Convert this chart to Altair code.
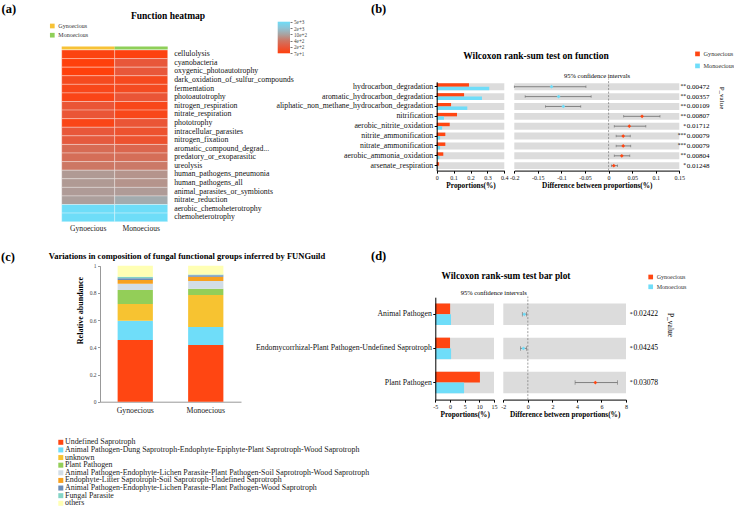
import altair as alt
import pandas as pd

W, H = 734, 507
FONT = "Liberation Serif"
RED = "#FF4612"
CYAN = "#6FDDF9"
GOLD = "#F7C236"
GREEN = "#8ECF58"
BAND = "#DCDCDC"
ERR = "#6A6A6A"
GROUPS = ["Gynoecious", "Monoecious"]

# ---------------- (a) FAPROTAX function heatmap ----------------
HEAT_FUNCS = [
    "cellulolysis", "cyanobacteria", "oxygenic_photoautotrophy",
    "dark_oxidation_of_sulfur_compounds", "fermentation", "photoautotrophy",
    "nitrogen_respiration", "nitrate_respiration", "phototrophy",
    "intracellular_parasites", "nitrogen_fixation", "aromatic_compound_degrad...",
    "predatory_or_exoparasitic", "ureolysis", "human_pathogens_pneumonia",
    "human_pathogens_all", "animal_parasites_or_symbionts", "nitrate_reduction",
    "aerobic_chemoheterotrophy", "chemoheterotrophy",
]
HEAT_GYN = [85, 65, 65, 125, 110, 100, 190, 190, 100, 200, 220, 330, 350, 420, 880, 880, 900, 950, 5000, 5000]
HEAT_MON = [80, 200, 200, 120, 130, 190, 110, 110, 190, 170, 170, 300, 350, 450, 800, 800, 900, 1250, 5000, 5000]
HEAT_TICKS = [70, 200, 400, 1000, 2000, 5000]
HEAT_TICK_TEXT = ["7e+1", "2e+2", "4e+2", "10e+2", "2e+3", "5e+3"]
HEAT_COLORS = ["#FF400C", "#E8573A", "#CE7562", "#A9A3A1", "#8EC4D6", "#6EDDF8"]

# ---------------- (b) Wilcoxon test on functions ----------------
B_FUNCS = [
    "hydrocarbon_degradation", "aromatic_hydrocarbon_degradation",
    "aliphatic_non_methane_hydrocarbon_degradation", "nitrification",
    "aerobic_nitrite_oxidation", "nitrite_ammonification", "nitrate_ammonification",
    "aerobic_ammonia_oxidation", "arsenate_respiration",
]
B_GYN = [0.191, 0.162, 0.085, 0.120, 0.077, 0.051, 0.051, 0.039, 0.014]
B_MON = [0.311, 0.268, 0.181, 0.043, 0.032, 0.020, 0.020, 0.016, 0.003]
B_DIFF = [-0.121, -0.106, -0.096, 0.071, 0.044, 0.031, 0.031, 0.028, 0.011]
B_LOW = [-0.200, -0.177, -0.134, 0.032, 0.012, 0.016, 0.016, 0.012, 0.006]
B_HIGH = [-0.048, -0.037, -0.059, 0.109, 0.079, 0.046, 0.047, 0.045, 0.019]
B_STARS = ["**", "**", "**", "**", "*", "***", "***", "**", "*"]
B_P = ["0.00472", "0.00357", "0.00109", "0.00807", "0.01712", "0.00079", "0.00079", "0.00804", "0.01248"]

# ---------------- (c) FUNGuild composition ----------------
C_GUILDS = [
    "Undefined Saprotroph",
    "Animal Pathogen-Dung Saprotroph-Endophyte-Epiphyte-Plant Saprotroph-Wood Saprotroph",
    "unknown",
    "Plant Pathogen",
    "Animal Pathogen-Endophyte-Lichen Parasite-Plant Pathogen-Soil Saprotroph-Wood Saprotroph",
    "Endophyte-Litter Saprotroph-Soil Saprotroph-Undefined Saprotroph",
    "Animal Pathogen-Endophyte-Lichen Parasite-Plant Pathogen-Wood Saprotroph",
    "Fungal Parasite",
    "others",
]
C_GYN = [0.453, 0.143, 0.122, 0.103, 0.047, 0.027, 0.012, 0.012, 0.081]
C_MON = [0.417, 0.132, 0.235, 0.047, 0.056, 0.032, 0.010, 0.007, 0.064]
C_COLORS = ["#FF4612", "#6FDDF9", "#F7C331", "#93CE58", "#D2DDE6", "#F7A11F", "#6C8DB8", "#83D4C6", "#FFFFB4"]

# ---------------- (d) Wilcoxon test on guilds ----------------
D_NAMES = ["Animal Pathogen", "Endomycorrhizal-Plant Pathogen-Undefined Saprotroph", "Plant Pathogen"]
D_GYN = [0.05, 0.02, 10.2]
D_MON = [0.35, 0.38, 4.8]
D_DIFF = [-0.29, -0.36, 5.5]
D_LOW = [-0.45, -0.60, 3.85]
D_HIGH = [-0.10, -0.10, 7.3]
D_STARS = ["*", "*", "*"]
D_P = ["0.02422", "0.04245", "0.03078"]

NUM_LABEL = "'' + datum.value"


def note(text, x, y, size, bold=False, angle=0, align="center"):
    return alt.Chart(alt.Data(values=[{}])).mark_text(
        text=text, font=FONT, fontSize=size, fontWeight="bold" if bold else "normal",
        angle=angle, align=align, baseline="middle", color="#000",
    ).encode(x=alt.value(x), y=alt.value(y))


def group_legend(x, y, gap, size=6):
    return alt.Legend(
        orient="none", legendX=x, legendY=y, title=None, symbolType="square",
        symbolSize=22, symbolStrokeWidth=0, labelFontSize=size, labelFont=FONT,
        labelColor="#333", rowPadding=gap, labelOffset=3, padding=0, labelLimit=400,
    )


# ---- (a) layers ----
heat_df = pd.DataFrame({
    "func": HEAT_FUNCS * 2,
    "group": [GROUPS[0]] * len(HEAT_FUNCS) + [GROUPS[1]] * len(HEAT_FUNCS),
    "value": HEAT_GYN + HEAT_MON,
})


def heat_x(axis):
    return alt.X("group:N", scale=alt.Scale(domain=GROUPS, range=[61.7, 167.7], paddingInner=0, paddingOuter=0), axis=axis)


heat = alt.Chart(heat_df).mark_rect(stroke="#FFFFFF", strokeWidth=0.6, strokeOpacity=0.55).encode(
    x=heat_x(alt.Axis(orient="bottom", offset=221.7 - H, title=None, labelAngle=0, domain=False, ticks=False,
                      labelFontSize=7.6, labelPadding=3, labelColor="#222")),
    y=alt.Y("func:N", scale=alt.Scale(domain=HEAT_FUNCS, range=[50, 221.7], paddingInner=0, paddingOuter=0),
            axis=alt.Axis(orient="right", offset=167.7 - W, title=None, domain=False, ticks=False,
                          labelFontSize=7.8, labelPadding=6, labelColor="#111", labelLimit=400)),
    color=alt.Color("value:Q", scale=alt.Scale(domain=HEAT_TICKS, range=HEAT_COLORS, interpolate="rgb", clamp=True),
                    legend=None),
)

strip = alt.Chart(pd.DataFrame({"group": GROUPS, "row": ["group", "group"]})).mark_rect().encode(
    x=heat_x(None),
    y=alt.Y("row:N", scale=alt.Scale(range=[46.6, 49.4], paddingInner=0, paddingOuter=0), axis=None),
    color=alt.Color("group:N", scale=alt.Scale(domain=GROUPS, range=[GOLD, GREEN]),
                    legend=group_legend(49.3, 23, 3.2)),
)

gradient = {
    "gradient": "linear", "x1": 0, "y1": 1, "x2": 0, "y2": 0,
    "stops": [{"offset": i / (len(HEAT_COLORS) - 1), "color": c} for i, c in enumerate(HEAT_COLORS)],
}
cbar = alt.Chart(pd.DataFrame({"lo": [HEAT_TICK_TEXT[0]], "hi": [HEAT_TICK_TEXT[-1]]})).mark_rect(fill=gradient).encode(
    x=alt.XDatum(0, type="quantitative", scale=alt.Scale(domain=[0, 1], range=[277.7, 290]), axis=None),
    x2=alt.X2Datum(1),
    y=alt.Y("lo:N", scale=alt.Scale(type="point", domain=HEAT_TICK_TEXT, range=[53.3, 21.7], padding=0),
            axis=alt.Axis(orient="right", offset=290 - W, title=None, domain=False, tickSize=2,
                          tickColor="#777", labelFontSize=5.2, labelPadding=1.5, labelColor="#444")),
    y2="hi:N",
)


# ---- (b) and (d): extended error bar panels ----
def stamp_panel(names, gyn, mon, diff, low, high, stars, pvals, y_range, pad,
                bar_dom, bar_rng, bar_ticks, ci_dom, ci_rng, ci_ticks, zero_top,
                legend_xy, legend_gap, legend_size, cap, label_size, p_size):
    axis_y = y_range[1]
    long_df = pd.DataFrame({
        "func": names * 2,
        "group": [GROUPS[0]] * len(names) + [GROUPS[1]] * len(names),
        "value": gyn + mon,
    })
    test_df = pd.DataFrame({"func": names, "diff": diff, "low": low, "high": high, "stars": stars, "p": pvals})

    ysc = alt.Scale(domain=names, range=y_range, paddingInner=pad, paddingOuter=pad / 2)
    bx = alt.Scale(domain=bar_dom, range=bar_rng, nice=False, zero=False)
    cx = alt.Scale(domain=ci_dom, range=ci_rng, nice=False, zero=False)

    def x_axis(values, title):
        return alt.Axis(orient="bottom", offset=axis_y - H, values=values, labelExpr=NUM_LABEL, title=title,
                        titleFontWeight="bold", titleFontSize=7.3, titlePadding=1.5, labelFontSize=6,
                        tickSize=2.5, labelPadding=1, labelFlush=False, labelOverlap=False,
                        domainColor="#000", tickColor="#000", labelColor="#111", titleColor="#000")

    # every layer sharing a scale carries the same axis definition
    bar_xaxis = x_axis(bar_ticks, "Proportions(%)")
    ci_xaxis = x_axis(ci_ticks, "Difference between proportions(%)")
    bar_yaxis = alt.Axis(orient="left", offset=-bar_rng[0], title=None, labelFontSize=label_size,
                         tickSize=2.5, labelPadding=1.5, labelLimit=400, domainColor="#000",
                         tickColor="#000", labelColor="#111")

    bar_bg = alt.Chart(test_df).mark_rect(color=BAND).encode(
        x=alt.XDatum(bar_dom[0], type="quantitative", scale=bx, axis=bar_xaxis),
        x2=alt.X2Datum(bar_dom[1]),
        y=alt.Y("func:N", scale=ysc, axis=bar_yaxis),
    )
    bars = alt.Chart(long_df).mark_bar().encode(
        x=alt.X("value:Q", scale=bx, axis=bar_xaxis),
        x2=alt.X2Datum(bar_dom[0]),
        y=alt.Y("func:N", scale=ysc, axis=bar_yaxis),
        yOffset=alt.YOffset("group:N", scale=alt.Scale(domain=GROUPS, paddingInner=0, paddingOuter=0)),
        color=alt.Color("group:N", scale=alt.Scale(domain=GROUPS, range=[RED, CYAN]),
                        legend=group_legend(legend_xy[0], legend_xy[1], legend_gap, legend_size)),
    )
    bar_part = alt.layer(bar_bg, bars)

    def y_ci():
        return alt.Y("func:N", scale=ysc, axis=None)

    ci_bg = alt.Chart(test_df).mark_rect(color=BAND).encode(
        x=alt.XDatum(ci_dom[0], type="quantitative", scale=cx, axis=ci_xaxis),
        x2=alt.X2Datum(ci_dom[1]),
        y=y_ci(),
    )
    zero = alt.Chart(alt.Data(values=[{}])).mark_rule(strokeDash=[2, 1.5], color="#777", strokeWidth=0.7).encode(
        x=alt.XDatum(0, type="quantitative", scale=cx, axis=ci_xaxis),
        y=alt.YDatum(0, type="quantitative", scale=alt.Scale(domain=[0, 1], range=[axis_y, zero_top]), axis=None),
        y2=alt.Y2Datum(1),
    )
    ci_line = alt.Chart(test_df).mark_rule(color=ERR, strokeWidth=0.8).encode(
        x=alt.X("low:Q", scale=cx, axis=ci_xaxis), x2="high:Q", y=y_ci())
    ci_caps = alt.Chart(test_df).transform_fold(["low", "high"], as_=["end", "pos"]).mark_tick(
        orient="vertical", size=cap, thickness=0.8, color=ERR).encode(
        x=alt.X("pos:Q", scale=cx, axis=ci_xaxis), y=y_ci())
    ci_pt = alt.Chart(test_df).mark_point(shape="diamond", filled=True, size=14, opacity=1).encode(
        x=alt.X("diff:Q", scale=cx, axis=ci_xaxis), y=y_ci(),
        color=alt.condition("datum.diff > 0", alt.value(RED), alt.value(CYAN)))
    star_txt = alt.Chart(test_df).mark_text(align="right", font=FONT, fontSize=p_size - 1.5, dx=6.8, dy=-0.6,
                                            color="#000").encode(
        x=alt.XDatum(ci_dom[1], type="quantitative", scale=cx, axis=ci_xaxis), y=y_ci(), text="stars:N")
    p_txt = alt.Chart(test_df).mark_text(align="left", font=FONT, fontSize=p_size, dx=7.4, color="#000").encode(
        x=alt.XDatum(ci_dom[1], type="quantitative", scale=cx, axis=ci_xaxis), y=y_ci(), text="p:N")
    ci_part = alt.layer(ci_bg, zero, alt.layer(ci_line, ci_caps, ci_pt, star_txt, p_txt)).resolve_scale(
        y="independent")
    return [bar_part, ci_part]


b_layers = stamp_panel(
    B_FUNCS, B_GYN, B_MON, B_DIFF, B_LOW, B_HIGH, B_STARS, B_P,
    y_range=[81.8, 170.6], pad=0.3,
    bar_dom=[0, 0.4], bar_rng=[436.7, 504.3], bar_ticks=[0, 0.1, 0.2, 0.3, 0.4],
    ci_dom=[-0.2, 0.15], ci_rng=[514.3, 679.3],
    ci_ticks=[-0.2, -0.15, -0.1, -0.05, 0, 0.05, 0.1, 0.15], zero_top=78.5,
    legend_xy=[694.4, 50.8], legend_gap=5.0, legend_size=6.2, cap=2.5, label_size=7.8, p_size=7,
)

d_layers = stamp_panel(
    D_NAMES, D_GYN, D_MON, D_DIFF, D_LOW, D_HIGH, D_STARS, D_P,
    y_range=[297.2, 399.6], pad=0.37,
    bar_dom=[-5, 15], bar_rng=[435.3, 494], bar_ticks=[-5, 0, 5, 10, 15],
    ci_dom=[-2, 8], ci_rng=[503.3, 626], ci_ticks=[-2, 0, 2, 4, 6, 8], zero_top=296.5,
    legend_xy=[647.7, 274], legend_gap=3.8, legend_size=6, cap=4.5, label_size=7.8, p_size=7.6,
)

# ---- (c) stacked composition ----
c_rows = []
for sample, vals in zip(GROUPS, [C_GYN, C_MON]):
    for rank, (guild, v) in enumerate(zip(C_GUILDS, vals)):
        c_rows.append({"sample": sample, "guild": guild, "value": v, "rank": rank})
c_df = pd.DataFrame(c_rows)
guild_color = alt.Scale(domain=C_GUILDS, range=C_COLORS)

c_chart = alt.Chart(c_df).mark_bar().encode(
    x=alt.X("sample:N", scale=alt.Scale(domain=GROUPS, range=[100, 241], paddingInner=0.5, paddingOuter=0.25),
            axis=alt.Axis(orient="bottom", offset=401.7 - H, title=None, labelAngle=0, ticks=False,
                          labelFontSize=7.8, labelPadding=5, domainColor="#999", labelColor="#222")),
    y=alt.Y("value:Q", stack="zero", scale=alt.Scale(domain=[0, 1], range=[401.7, 265.7], nice=False),
            axis=alt.Axis(orient="left", offset=-100, values=[0, 0.2, 0.4, 0.6, 0.8, 1], labelExpr=NUM_LABEL,
                          tickSize=2.5, labelFontSize=5.5, labelPadding=1.5, labelColor="#444",
                          domainColor="#999", tickColor="#999", title="Relative abundance",
                          titleFontSize=8, titleFontWeight="bold", titleColor="#000", titleX=-16, titleY=310)),
    color=alt.Color("guild:N", scale=guild_color, legend=None),
    order=alt.Order("rank:Q", sort="ascending"),
)

# guild key below the stacked bars: one square and one label per guild
key_df = pd.DataFrame({"guild": C_GUILDS})
key_x = alt.XDatum(0, type="quantitative", scale=alt.Scale(domain=[0, 1], range=[60.8, 62]), axis=None)
key_y = alt.Y("guild:N", scale=alt.Scale(type="point", domain=C_GUILDS, range=[442.3, 503.3], padding=0), axis=None)
key_sq = alt.Chart(key_df).mark_square(size=25, opacity=1, strokeWidth=0).encode(
    x=key_x, y=key_y, color=alt.Color("guild:N", scale=guild_color, legend=None))
key_txt = alt.Chart(key_df).mark_text(align="left", baseline="middle", dx=4.2, font=FONT, fontSize=7.9,
                                      color="#222").encode(x=key_x, y=key_y, text="guild:N")
c_key = alt.layer(key_sq, key_txt)

notes = [
    note("(a)", 1.5, 9, 12.5, bold=True, align="left"),
    note("(b)", 371, 9, 12.5, bold=True, align="left"),
    note("(c)", 1, 256.5, 12.5, bold=True, align="left"),
    note("(d)", 371, 255.5, 12.5, bold=True, align="left"),
    note("Function heatmap", 168, 15.7, 9.5, bold=True),
    note("Wilcoxon rank-sum test on function", 536, 55.7, 9.5, bold=True),
    note("95% confidence intervals", 597, 76.3, 6.5),
    note("P_value", 721.7, 98, 7, angle=90),
    note("Variations in composition of fungal functional groups inferred by FUNGuild", 187, 256, 8.5, bold=True),
    note("Wilcoxon rank-sum test bar plot", 506, 275.7, 9.3, bold=True),
    note("95% confidence intervals", 493.7, 293.3, 6.5),
    note("P_value", 670, 325, 7.5, angle=90),
]

chart = alt.layer(
    heat, strip, cbar, *b_layers, c_chart, c_key, *d_layers, *notes
).resolve_scale(
    x="independent", y="independent", color="independent", yOffset="independent"
).properties(
    width=W, height=H, padding=0, autosize=alt.AutoSizeParams(type="none"), background="white"
).configure_view(stroke=None).configure_axis(grid=False, labelFont=FONT, titleFont=FONT)

chart.save("out.html", embed_options={"renderer": "svg", "actions": False})
